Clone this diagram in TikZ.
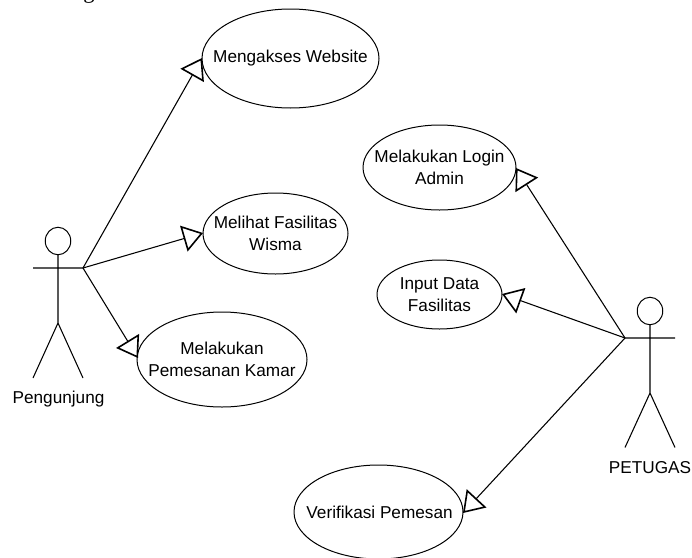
\documentclass[tikz,border=0pt]{standalone}
\usepackage{fontspec}
\setmainfont{Liberation Sans}
\newfontfamily\serifcut{Liberation Serif}
\usetikzlibrary{arrows.meta,shapes.geometric,calc}
\tikzset{
  x=0.75pt,y=-0.75pt,
  usecase/.style={draw,ellipse,line width=0.75pt,inner sep=0pt,outer sep=0pt},
  ucl/.style={align=center,inner sep=0pt,font=\fontsize{12.9}{16.6}\selectfont},
  conn/.style={line width=0.8pt,-{Triangle[open,length=15pt,width=20pt,line width=1.2pt,fill=white]}},
  limb/.style={line width=0.8pt},
  lbl/.style={font=\fontsize{12.9}{15}\selectfont,inner sep=0pt},
  headshape/.style={draw,ellipse,line width=0.75pt,minimum width=25.5*0.75pt,minimum height=27.5*0.75pt,inner sep=0pt,outer sep=0pt}
}
\begin{document}
\begin{tikzpicture}
\useasboundingbox (0,0) rectangle (692,557);
\begin{scope}
\clip (0,0) rectangle (692,557);
\node[inner sep=0pt,anchor=base,font=\serifcut\fontsize{17}{18}\selectfont] (cut) at (89,-2) {g};
% use cases
\node[usecase,minimum width=177*0.75pt,minimum height=99*0.75pt,label={[ucl]center:{Mengakses Website}}] (web) at (290.5,58.5) {};
\node[usecase,minimum width=145*0.75pt,minimum height=81*0.75pt,label={[ucl]center:{Melihat Fasilitas\\Wisma}}] (lihat) at (275.5,233.5) {};
\node[usecase,minimum width=170*0.75pt,minimum height=95*0.75pt,label={[ucl]center:{Melakukan\\Pemesanan Kamar}}] (pesan) at (222,359.5) {};
\node[usecase,minimum width=153*0.75pt,minimum height=85*0.75pt,label={[ucl]center:{Melakukan Login\\Admin}}] (login) at (439.5,167.5) {};
\node[usecase,minimum width=125*0.75pt,minimum height=69*0.75pt,label={[ucl]center:{Input Data\\Fasilitas}}] (input) at (439.5,294.5) {};
\node[usecase,minimum width=169*0.75pt,minimum height=94*0.75pt,label={[ucl,xshift=0.8pt]center:{Verifikasi Pemesan}}] (verif) at (378.5,512) {};
\end{scope}
% actor 1
\coordinate (a1hand) at (83,268);
\coordinate (a1handl) at (33,268);
\coordinate (a1hip) at (58,323);
\coordinate (a1footl) at (33,378);
\coordinate (a1footr) at (83,378);
\node[headshape] (a1head) at (58,241) {};
\draw[limb] (a1head.south) -- (a1hip) (a1handl) -- (a1hand) (a1footl) -- (a1hip) -- (a1footr);
\node[lbl] (a1lbl) at (58.5,399) {Pengunjung};
% actor 2
\coordinate (a2hand) at (625,338);
\coordinate (a2handr) at (675,338);
\coordinate (a2hip) at (650,393);
\coordinate (a2footl) at (625,447.5);
\coordinate (a2footr) at (675,447.5);
\node[headshape] (a2head) at (650,311) {};
\draw[limb] (a2head.south) -- (a2hip) (a2hand) -- (a2handr) (a2footl) -- (a2hip) -- (a2footr);
\node[lbl] (a2lbl) at (650,468) {PETUGAS};
% connectors: tips touch the ellipses at these points
\coordinate (t1) at (202,58);
\coordinate (t2) at (203,233);
\coordinate (t3) at (138,358);
\coordinate (t4) at (516,168);
\coordinate (t5) at (502,294);
\coordinate (t6) at (463,513);
\draw[conn] (a1hand) -- (t1);
\draw[conn] (a1hand) -- (t2);
\draw[conn] (a1hand) -- (t3);
\draw[conn] (a2hand) -- (t4);
\draw[conn] (a2hand) -- (t5);
\draw[conn] (a2hand) -- (t6);
\end{tikzpicture}
\end{document}
